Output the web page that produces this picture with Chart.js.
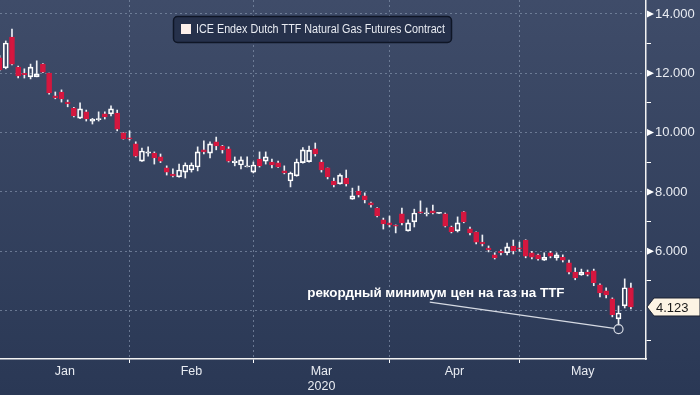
<!DOCTYPE html>
<html>
<head>
<meta charset="utf-8">
<script src="https://cdn.jsdelivr.net/npm/chart.js@4.4.1/dist/chart.umd.min.js"></script>
<style>
  html, body { margin: 0; padding: 0; background: #2b3955; }
  .chart-container {
    width: 700px;
    height: 395px;
    background: linear-gradient(#3f4c69, #2a3855);
  }
</style>
</head>
<body>
<div class="chart-container"><canvas id="chart" width="700" height="395"></canvas></div>
<script>
// TTF front-month daily OHLC, Jan - May 2020 (trading-day index on x)
const opens = [
  12.52, 12.18, 13.22, 12.21, 12.00, 11.88, 11.88, 12.31, 12.01, 11.24,
  11.37, 11.03, 10.83, 10.49, 10.70, 10.39, 10.44, 10.63, 10.63, 10.66,
  9.99, 9.82, 9.62, 9.04, 9.31, 9.31, 9.18, 8.81, 8.60, 8.51,
  8.67, 8.74, 8.84, 9.42, 9.31, 9.69, 9.55, 9.45, 8.99, 8.91,
  8.84, 8.67, 9.11, 9.04, 9.01, 8.98, 8.71, 8.37, 8.54, 8.99,
  9.02, 9.45, 9.01, 8.81, 8.37, 8.27, 8.47, 7.76, 8.03, 7.87,
  7.63, 7.46, 7.06, 6.96, 6.88, 7.26, 6.69, 6.99, 7.33, 7.26,
  7.36, 7.28, 7.26, 6.82, 6.69, 7.33, 6.76, 6.65, 6.31, 6.11,
  5.88, 6.00, 5.95, 6.18, 6.11, 6.38, 5.95, 5.88, 5.70, 5.95,
  5.78, 5.80, 5.61, 5.30, 5.20, 5.30, 5.34, 4.87, 4.67, 4.40,
  3.72, 4.16, 4.77
];
const highs = [
  12.60, 13.09, 13.49, 12.24, 12.15, 12.31, 12.42, 12.33, 12.01, 11.37,
  11.44, 11.10, 10.85, 11.00, 10.76, 10.48, 10.70, 10.70, 10.90, 10.76,
  10.00, 10.06, 9.69, 9.48, 9.52, 9.35, 9.28, 8.88, 8.78, 8.94,
  8.98, 8.98, 9.52, 9.72, 9.69, 9.85, 9.57, 9.52, 9.18, 9.18,
  9.18, 9.01, 9.35, 9.35, 9.11, 9.04, 8.88, 8.67, 9.11, 9.50,
  9.55, 9.65, 9.08, 8.81, 8.47, 8.61, 8.74, 8.13, 8.20, 7.97,
  7.66, 7.47, 7.12, 7.19, 6.89, 7.46, 7.06, 7.42, 7.70, 7.46,
  7.56, 7.31, 7.29, 6.85, 7.16, 7.34, 6.82, 6.66, 6.55, 6.18,
  5.95, 6.05, 6.28, 6.38, 6.31, 6.39, 6.00, 5.91, 5.95, 6.00,
  5.95, 5.88, 5.70, 5.44, 5.40, 5.37, 5.40, 4.90, 4.77, 4.43,
  4.16, 5.07, 4.93
];
const lows = [
  12.08, 12.15, 12.28, 11.84, 11.84, 11.81, 11.88, 12.02, 11.30, 11.14,
  11.03, 10.87, 10.53, 10.47, 10.39, 10.29, 10.39, 10.46, 10.56, 10.06,
  9.78, 9.75, 9.18, 9.03, 9.21, 8.94, 8.99, 8.57, 8.51, 8.50,
  8.47, 8.67, 8.71, 9.28, 9.15, 9.42, 9.31, 9.01, 8.88, 8.78,
  8.84, 8.64, 8.84, 8.94, 8.81, 8.83, 8.61, 8.17, 8.53, 8.97,
  9.00, 9.21, 8.67, 8.44, 8.17, 8.26, 8.20, 7.75, 7.83, 7.63,
  7.49, 7.16, 6.75, 6.82, 6.62, 6.89, 6.68, 6.82, 7.28, 7.19,
  7.26, 7.27, 6.82, 6.62, 6.65, 6.96, 6.55, 6.25, 6.18, 5.98,
  5.74, 5.88, 5.88, 5.91, 6.00, 5.78, 5.74, 5.70, 5.69, 5.78,
  5.70, 5.64, 5.24, 5.04, 5.19, 5.17, 4.84, 4.46, 4.43, 3.79,
  3.52, 4.09, 4.06
];
const closes = [
  12.11, 13.02, 12.31, 11.91, 11.95, 12.21, 11.98, 12.04, 11.34, 11.17,
  11.14, 10.97, 10.56, 10.80, 10.46, 10.46, 10.47, 10.53, 10.80, 10.12,
  9.79, 9.79, 9.21, 9.38, 9.35, 9.15, 9.04, 8.67, 8.54, 8.74,
  8.91, 8.91, 9.35, 9.35, 9.62, 9.55, 9.42, 9.04, 9.04, 9.08,
  8.88, 8.91, 8.88, 9.18, 8.91, 8.84, 8.64, 8.64, 9.01, 9.42,
  9.40, 9.28, 8.74, 8.51, 8.24, 8.57, 8.27, 7.87, 7.90, 7.73,
  7.56, 7.19, 6.92, 6.89, 6.85, 6.96, 6.96, 7.29, 7.29, 7.29,
  7.29, 7.30, 6.85, 6.65, 6.96, 6.99, 6.62, 6.31, 6.25, 6.05,
  5.78, 5.95, 6.15, 6.01, 6.08, 5.84, 5.80, 5.74, 5.80, 5.84,
  5.88, 5.70, 5.30, 5.10, 5.30, 5.22, 4.94, 4.60, 4.53, 3.86,
  3.92, 4.77, 4.123
];

const monthStarts = [21, 41, 63, 84];          // first trading day of Feb..May
const monthLabels = ['Jan', 'Feb', ['Mar', '2020'], 'Apr', 'May'];
const yTicks = [3, 4, 5, 6, 7, 8, 9, 10, 11, 12, 13, 14];
const seriesName = 'ICE Endex Dutch TTF Natural Gas Futures Contract';
const noteText = 'рекордный минимум цен на газ на TTF';
const lastPrice = closes[closes.length - 1];
const lowIndex = 100;

const xMin = 0.065, xMax = 104.44;
const yMin = 2.37, yMax = 14.47;

const UP = '#ffffff';
const DOWN = '#d5173f';
const WICK = '#eef0f4';
const GRID = 'rgba(125,140,165,0.75)';
const TEXT = '#e9ecf2';
const FONT = '"Liberation Sans", Arial, sans-serif';

const bounds = [xMin, ...monthStarts, xMax];
const labelPos = monthLabels.map((_, i) => (bounds[i] + bounds[i + 1]) / 2);

const isUp = i => closes[i] >= opens[i];
const bodies = opens.map((o, i) => ({ x: i, y: [o, closes[i]] }));
const upperWicks = opens.map((o, i) => ({ x: i, y: [Math.max(o, closes[i]), highs[i]] }));
const lowerWicks = opens.map((o, i) => ({ x: i, y: [lows[i], Math.min(o, closes[i])] }));

const overlay = {
  id: 'overlay',
  afterDraw(chart) {
    const { ctx, scales: { x, y } } = chart;
    ctx.save();

    // major tick arrows on the price axis
    ctx.fillStyle = '#ffffff';
    [6, 8, 10, 12, 14].forEach(v => {
      const py = y.getPixelForValue(v);
      ctx.beginPath();
      ctx.moveTo(x.right + 1, py - 3.5);
      ctx.lineTo(x.right + 8, py);
      ctx.lineTo(x.right + 1, py + 3.5);
      ctx.closePath();
      ctx.fill();
    });

    // last price tag
    const ty = y.getPixelForValue(lastPrice);
    ctx.beginPath();
    ctx.moveTo(x.right + 1, ty);
    ctx.lineTo(x.right + 8, ty - 9);
    ctx.lineTo(700, ty - 9);
    ctx.lineTo(700, ty + 9);
    ctx.lineTo(x.right + 8, ty + 9);
    ctx.closePath();
    ctx.fillStyle = '#fdf4e4';
    ctx.fill();
    ctx.strokeStyle = '#1b2233';
    ctx.lineWidth = 1;
    ctx.stroke();
    ctx.fillStyle = '#1a1a1a';
    ctx.font = '13px ' + FONT;
    ctx.textBaseline = 'middle';
    ctx.textAlign = 'left';
    ctx.fillText(lastPrice.toFixed(3), x.right + 10, ty + 1);

    // legend box
    const lx = 173, ly = 16, lw = 278, lh = 26;
    ctx.beginPath();
    ctx.roundRect(lx + 0.5, ly + 0.5, lw, lh, 4);
    ctx.fillStyle = 'rgba(34,45,70,0.85)';
    ctx.fill();
    ctx.strokeStyle = '#0f1626';
    ctx.lineWidth = 1.5;
    ctx.stroke();
    ctx.fillStyle = '#fdf0ea';
    ctx.fillRect(lx + 8, ly + 8, 10, 10);
    ctx.fillStyle = TEXT;
    ctx.font = '12px ' + FONT;
    const tw = ctx.measureText(seriesName).width;
    ctx.save();
    ctx.translate(lx + 23, ly + 14);
    ctx.scale(Math.min(1, 249 / tw), 1);
    ctx.fillText(seriesName, 0, 0);
    ctx.restore();

    // annotation: text, leader line and circle on the record low
    const cx = x.getPixelForValue(lowIndex), cy = y.getPixelForValue(3.38);
    const sx = x.getPixelForValue(69.5), sy = y.getPixelForValue(4.29);
    const r = 4.5;
    const d = Math.hypot(cx - sx, cy - sy);
    ctx.strokeStyle = '#d6dae3';
    ctx.lineWidth = 1.2;
    ctx.beginPath();
    ctx.moveTo(sx, sy);
    ctx.lineTo(cx - (cx - sx) * r / d, cy - (cy - sy) * r / d);
    ctx.stroke();
    ctx.beginPath();
    ctx.arc(cx, cy, r, 0, Math.PI * 2);
    ctx.stroke();

    ctx.fillStyle = '#ffffff';
    ctx.font = 'bold 13.4px ' + FONT;
    ctx.textBaseline = 'alphabetic';
    ctx.fillText(noteText, x.getPixelForValue(49.7), y.getPixelForValue(4.45));

    ctx.restore();
  }
};

new Chart(document.getElementById('chart'), {
  type: 'bar',
  data: {
    datasets: [
      { data: lowerWicks, backgroundColor: WICK, barThickness: 1, order: 3 },
      { data: upperWicks, backgroundColor: WICK, barThickness: 1, order: 2 },
      {
        label: seriesName,
        data: bodies,
        order: 1,
        barThickness: 5,
        minBarLength: 1,
        borderWidth: 1,
        borderSkipped: false,
        backgroundColor: bodies.map((_, i) => isUp(i) ? 'rgba(0,0,0,0)' : DOWN),
        borderColor: bodies.map((_, i) => isUp(i) ? UP : DOWN)
      }
    ]
  },
  options: {
    responsive: false,
    animation: false,
    devicePixelRatio: 1,
    layout: { padding: 0 },
    datasets: { bar: { grouped: false } },
    plugins: { legend: { display: false }, tooltip: { enabled: false } },
    scales: {
      x: {
        type: 'linear',
        offset: false,
        min: xMin,
        max: xMax,
        afterBuildTicks: s => {
          s.ticks = [...monthStarts, ...labelPos].sort((a, b) => a - b).map(v => ({ value: v }));
        },
        ticks: {
          autoSkip: false,
          maxRotation: 0,
          padding: 1,
          color: TEXT,
          font: { family: FONT, size: 12.5 },
          callback: v => {
            const k = labelPos.findIndex(p => Math.abs(p - v) < 1e-6);
            return k >= 0 ? monthLabels[k] : '';
          }
        },
        grid: {
          offset: false,
          color: c => c.tick && monthStarts.includes(c.tick.value) ? GRID : 'rgba(0,0,0,0)',
          tickColor: c => c.tick && monthStarts.includes(c.tick.value) ? '#ffffff' : 'rgba(0,0,0,0)',
          tickLength: 4,
          tickBorderDash: []
        },
        border: { color: '#f2f2f2', width: 1.5, dash: [2, 3] },
        afterFit: s => { s.height = 36; s.paddingLeft = 0; s.paddingRight = 0; }
      },
      y: {
        position: 'right',
        min: yMin,
        max: yMax,
        afterBuildTicks: s => { s.ticks = yTicks.map(v => ({ value: v })); },
        ticks: {
          padding: 4,
          color: TEXT,
          font: { family: FONT, size: 13 },
          callback: v => (v % 2 === 0 && v !== 4) ? v.toFixed(3) : ''
        },
        grid: {
          color: c => c.tick && c.tick.value % 2 === 0 ? GRID : 'rgba(0,0,0,0)',
          tickColor: c => c.tick && c.tick.value % 2 === 1 ? '#ffffff' : 'rgba(0,0,0,0)',
          tickLength: 5,
          tickBorderDash: []
        },
        border: { color: '#f2f2f2', width: 1.5, dash: [2, 3] },
        afterFit: s => { s.width = 54; s.paddingTop = 0; s.paddingBottom = 0; }
      }
    }
  },
  plugins: [overlay]
});
</script>
</body>
</html>
